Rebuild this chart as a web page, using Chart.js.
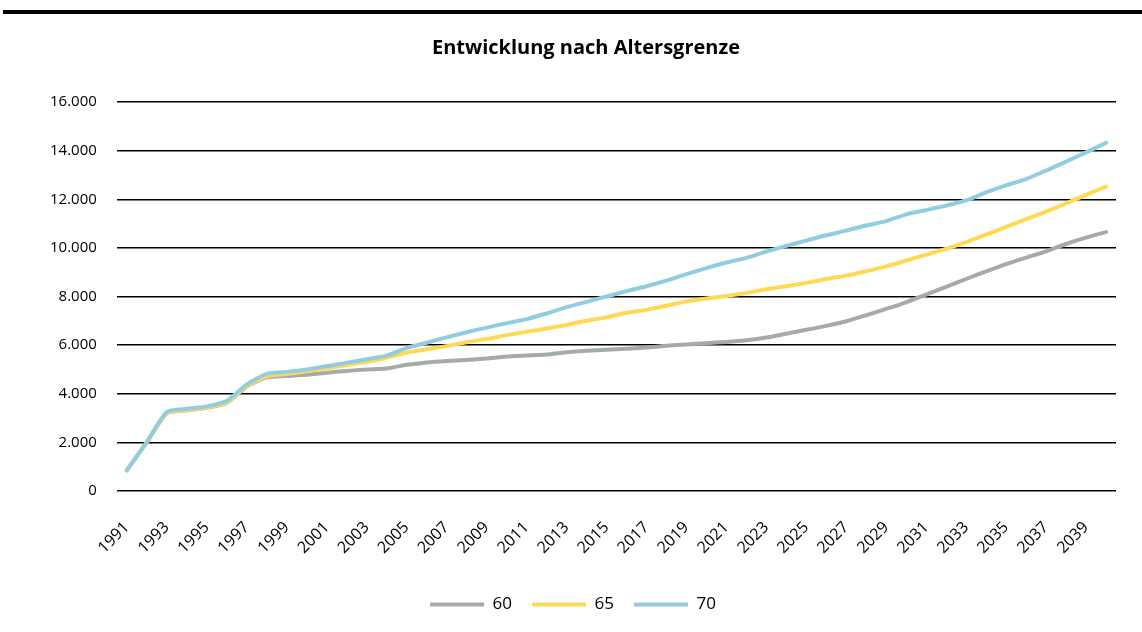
<!DOCTYPE html>
<html>
<head>
<meta charset="utf-8">
<script src="https://cdn.jsdelivr.net/npm/chart.js@4.4.1/dist/chart.umd.min.js"></script>
<style>
  html, body { margin: 0; padding: 0; background: #fff; }
  #wrap { position: relative; width: 1142px; height: 632px; }
  #topline { position: absolute; left: 3px; right: 0; top: 10px; height: 4px; background: #000; }
</style>
</head>
<body>
<div id="wrap">
  <div id="topline"></div>
  <canvas id="myChart" width="1142" height="632"></canvas>
</div>
<script>
// Daten
const jahre = [];
for (let j = 1991; j <= 2040; j++) jahre.push(String(j));

const werte60 = [850, 2000, 3200, 3320, 3420, 3620, 4300, 4680, 4730, 4780,
    4860, 4940, 5000, 5040, 5190, 5290, 5350, 5390, 5450, 5530,
    5570, 5610, 5710, 5770, 5810, 5850, 5900, 5970, 6030, 6080,
    6130, 6200, 6310, 6470, 6630, 6790, 6980, 7230, 7490, 7760,
    8080, 8400, 8720, 9030, 9330, 9600, 9860, 10160, 10420, 10650];
const werte65 = [850, 2000, 3200, 3330, 3430, 3640, 4320, 4720, 4810, 4920,
    5050, 5180, 5320, 5480, 5690, 5830, 5960, 6120, 6250, 6410,
    6550, 6680, 6830, 7000, 7140, 7330, 7450, 7620, 7800, 7920,
    8020, 8140, 8300, 8420, 8560, 8720, 8860, 9040, 9240, 9480,
    9720, 9960, 10240, 10540, 10860, 11180, 11490, 11830, 12180, 12520];
const werte70 = [850, 2020, 3250, 3380, 3480, 3700, 4380, 4820, 4900, 5000,
    5130, 5270, 5420, 5570, 5880, 6100, 6320, 6530, 6720, 6900,
    7070, 7300, 7560, 7780, 8000, 8220, 8420, 8650, 8920, 9170,
    9400, 9590, 9850, 10080, 10300, 10520, 10710, 10920, 11100, 11380,
    11560, 11740, 11950, 12280, 12570, 12830, 13180, 13550, 13930, 14320];

const titel = 'Entwicklung nach Altersgrenze';

// Titel etwas rechts von der Mitte, wie im Original
const titelPlugin = {
    id: 'titelPlugin',
    afterDraw(chart) {
        const c = chart.ctx;
        c.save();
        c.font = 'bold 20px "Open Sans"';
        c.fillStyle = '#000';
        c.textAlign = 'center';
        c.textBaseline = 'middle';
        c.fillText(titel, 586, 48);
        c.restore();
    }
};

const ctx = document.getElementById('myChart');
new Chart(ctx, {
    type: 'line',
    data: {
        labels: jahre,
        datasets: [
            { label: '60', data: werte60, order: 3, borderColor: 'rgb(164,172,168)', backgroundColor: 'rgb(164,172,168)' },
            { label: '65', data: werte65, order: 2, borderColor: 'rgb(255,217,84)', backgroundColor: 'rgb(255,217,84)' },
            { label: '70', data: werte70, order: 1, borderColor: 'rgb(146,204,224)', backgroundColor: 'rgb(146,204,224)' }
        ]
    },
    plugins: [titelPlugin],
    options: {
        responsive: false,
        animation: false,
        layout: { padding: { left: 30, right: 26, top: 102, bottom: 9 } },
        elements: {
            line: { borderWidth: 4, tension: 0.2, borderCapStyle: 'round' },
            point: { radius: 0, borderWidth: 4 }
        },
        scales: {
            x: {
                offset: true,
                grid: { display: false },
                border: { display: false },
                afterFit: function (scale) { scale.height = 85; },
                ticks: {
                    autoSkip: false,
                    maxRotation: 45,
                    minRotation: 45,
                    padding: 19,
                    color: '#000',
                    font: { family: 'Open Sans', size: 16 },
                    callback: function (v, i) { return i % 2 === 0 ? jahre[i] : ''; }
                }
            },
            y: {
                min: 0,
                max: 16000,
                grid: { color: '#000', lineWidth: 1.5, drawTicks: false },
                border: { display: false },
                ticks: {
                    stepSize: 2000,
                    padding: 20,
                    color: '#000',
                    font: { family: 'Open Sans', size: 15 },
                    callback: function (v) { return v.toLocaleString('de-DE'); }
                }
            }
        },
        plugins: {
            title: { display: false },
            legend: {
                position: 'bottom',
                labels: {
                    usePointStyle: true,
                    pointStyle: 'line',
                    pointStyleWidth: 54,
                    padding: 20,
                    color: '#000',
                    font: { family: 'Open Sans', size: 17 },
                    sort: function (a, b) { return a.datasetIndex - b.datasetIndex; }
                }
            },
            tooltip: { enabled: false }
        }
    }
});
</script>
</body>
</html>
